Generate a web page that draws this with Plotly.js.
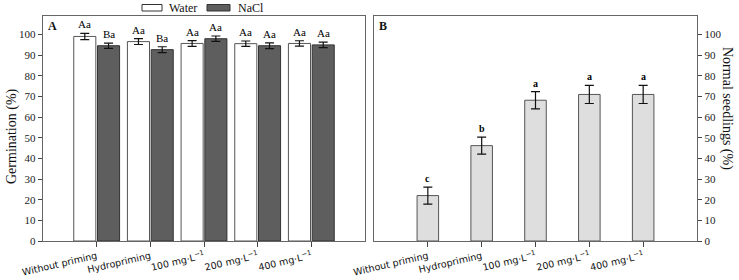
<!DOCTYPE html>
<html>
<head>
<meta charset="utf-8">
<script src="https://cdn.plot.ly/plotly-3.0.1.min.js"></script>
<style>html,body{margin:0;padding:0;background:#fff;}#chart{width:739px;height:280px;}</style>
</head>
<body>
<div id="chart"></div>
<script>
// ---- data ----
const categories = ["Without priming", "Hydropriming", "100 mg·L<sup>−1</sup>", "200 mg·L<sup>−1</sup>", "400 mg·L<sup>−1</sup>"];
const positions = [1, 2, 3, 4, 5];
const waterVals = [99.1, 96.6, 95.7, 95.6, 95.7];
const waterErr = [1.5, 1.4, 1.4, 1.3, 1.3];
const waterLetters = ["Aa", "Aa", "Aa", "Aa", "Aa"];
const naclVals = [94.6, 92.7, 98.0, 94.6, 95.0];
const naclErr = [1.3, 1.4, 1.3, 1.4, 1.3];
const naclLetters = ["Ba", "Ba", "Aa", "Aa", "Aa"];
const seedVals = [22.0, 46.2, 68.2, 71.0, 71.0];
const seedErr = [4.1, 4.1, 4.2, 4.4, 4.4];
const seedLetters = ["c", "b", "a", "a", "a"];
const yTicks = [0, 10, 20, 30, 40, 50, 60, 70, 80, 90, 100];

// ---- styling ----
const serif = "Liberation Serif, Times New Roman, serif";
const sans = "DejaVu Sans, Verdana, sans-serif";
const bargap = 0.115;
const barW = 0.4;
const off = (1 - bargap) / 4;

const traces = [
  {type: "bar", name: "Water", x: positions, y: waterVals, xaxis: "x", yaxis: "y",
   marker: {color: "#ffffff", line: {color: "#555555", width: 1}},
   error_y: {type: "data", array: waterErr, visible: true, color: "#111", thickness: 1.2, width: 4.5},
   showlegend: false},
  {type: "bar", name: "NaCl", x: positions, y: naclVals, xaxis: "x", yaxis: "y",
   marker: {color: "#5e5e5e", line: {color: "#333333", width: 1}},
   error_y: {type: "data", array: naclErr, visible: true, color: "#111", thickness: 1.2, width: 4.5},
   showlegend: false},
  {type: "bar", name: "Normal seedlings", x: positions, y: seedVals, width: barW, xaxis: "x2", yaxis: "y2",
   marker: {color: "#dedede", line: {color: "#555555", width: 1}},
   error_y: {type: "data", array: seedErr, visible: true, color: "#111", thickness: 1.2, width: 4.5},
   showlegend: false}
];

const annotations = [];
positions.forEach((p, i) => {
  annotations.push({xref: "x", yref: "y", x: p - off, y: waterVals[i] + waterErr[i], text: waterLetters[i],
    showarrow: false, yanchor: "bottom", yshift: 1, font: {family: serif, size: 11, color: "#000"}});
  annotations.push({xref: "x", yref: "y", x: p + off, y: naclVals[i] + naclErr[i], text: naclLetters[i],
    showarrow: false, yanchor: "bottom", yshift: 1, font: {family: serif, size: 11, color: "#000"}});
  annotations.push({xref: "x2", yref: "y2", x: p, y: seedVals[i] + seedErr[i], text: "<b>" + seedLetters[i] + "</b>",
    showarrow: false, yanchor: "bottom", yshift: 1, font: {family: serif, size: 10, color: "#000"}});
});
// panel letters
annotations.push({xref: "paper", yref: "paper", x: 46/739, y: 1 - 17/280, xanchor: "left", yanchor: "top",
  text: "<b>A</b>", showarrow: false, font: {family: serif, size: 12, color: "#111"}});
annotations.push({xref: "paper", yref: "paper", x: 377/739, y: 1 - 17/280, xanchor: "left", yanchor: "top",
  text: "<b>B</b>", showarrow: false, font: {family: serif, size: 12, color: "#111"}});
// axis titles
annotations.push({xref: "paper", yref: "paper", x: 12/739, y: (280 - 136)/280, xanchor: "center", yanchor: "middle",
  text: "Germination (%)", textangle: -90, showarrow: false, font: {family: serif, size: 14, color: "#111"}});
annotations.push({xref: "paper", yref: "paper", x: 727/739, y: (280 - 108)/280, xanchor: "center", yanchor: "middle",
  text: "Normal seedlings (%)", textangle: 90, showarrow: false, font: {family: serif, size: 14, color: "#111"}});
// legend text
annotations.push({xref: "paper", yref: "paper", x: 167/739, y: 1 - 8/280, xanchor: "left", yanchor: "middle",
  text: "Water", showarrow: false, font: {family: serif, size: 12, color: "#111"}});
annotations.push({xref: "paper", yref: "paper", x: 236/739, y: 1 - 8/280, xanchor: "left", yanchor: "middle",
  text: "NaCl", showarrow: false, font: {family: serif, size: 12, color: "#111"}});

const shapes = [
  {type: "rect", xref: "paper", yref: "paper", x0: 142/739, x1: 162/739, y0: 1 - 11/280, y1: 1 - 4.5/280,
   fillcolor: "#ffffff", line: {color: "#333", width: 1}},
  {type: "rect", xref: "paper", yref: "paper", x0: 207/739, x1: 230/739, y0: 1 - 11/280, y1: 1 - 4.5/280,
   fillcolor: "#5e5e5e", line: {color: "#333", width: 1}}
];

const yBottom = (280 - 241) / 280, yTop = (280 - 16) / 280;
const xAxisCommon = {
  range: [0, 6], tickvals: positions, ticktext: categories, tickangle: -13,
  ticks: "outside", ticklen: 5, tickcolor: "#444", tickwidth: 1,
  showline: true, mirror: true, linecolor: "#666", linewidth: 1.2,
  showgrid: false, zeroline: false, fixedrange: true,
  tickfont: {family: sans, size: 9.5, color: "#111"}
};
const yAxisCommon = {
  range: [0, 109], tickvals: yTicks, ticks: "outside", ticklen: 4, tickcolor: "#444", tickwidth: 1,
  showline: true, mirror: true, linecolor: "#666", linewidth: 1.2,
  showgrid: false, zeroline: false, fixedrange: true,
  tickfont: {family: serif, size: 11, color: "#222"}
};

const layout = {
  width: 739, height: 280,
  margin: {l: 0, r: 0, t: 0, b: 0},
  paper_bgcolor: "#fff", plot_bgcolor: "#fff",
  barmode: "group", bargap: bargap, bargroupgap: 0.07,
  showlegend: false,
  xaxis: Object.assign({}, xAxisCommon, {domain: [43/739, 365/739], anchor: "y"}),
  yaxis: Object.assign({}, yAxisCommon, {domain: [yBottom, yTop], anchor: "x", side: "left"}),
  xaxis2: Object.assign({}, xAxisCommon, {domain: [374/739, 697/739], anchor: "y2"}),
  yaxis2: Object.assign({}, yAxisCommon, {domain: [yBottom, yTop], anchor: "x2", side: "right"}),
  annotations: annotations,
  shapes: shapes
};

Plotly.newPlot("chart", traces, layout, {displayModeBar: false, staticPlot: true});
</script>
</body>
</html>
